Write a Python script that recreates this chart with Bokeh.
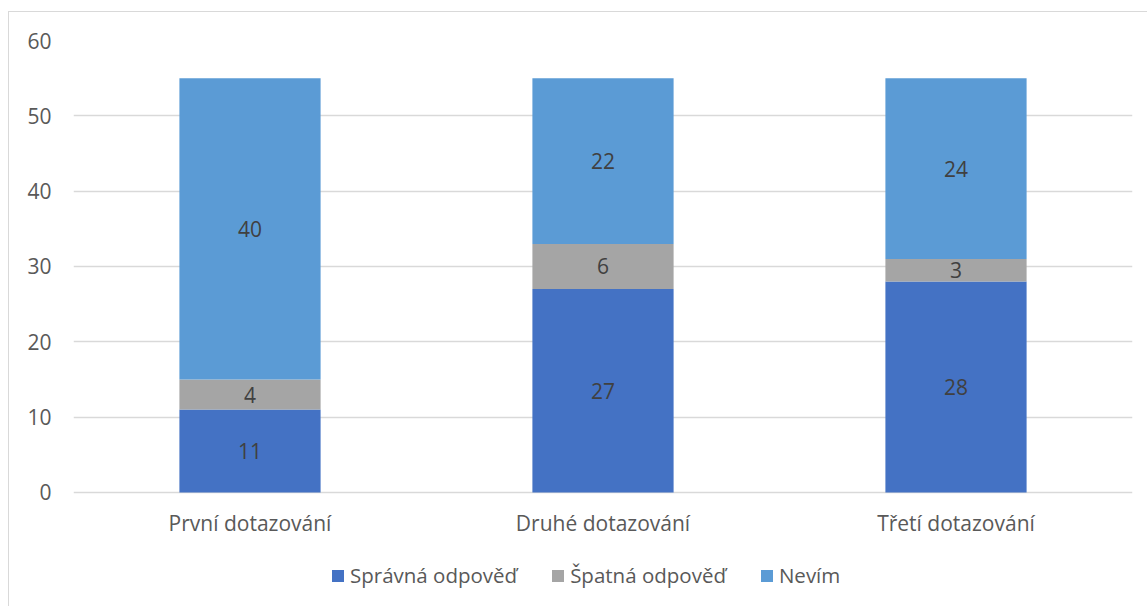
from bokeh.plotting import figure
from bokeh.models import ColumnDataSource, Legend, LegendItem, FactorRange, FixedTicker
from bokeh.core.properties import value
from bokeh.embed import file_html
from bokeh.resources import INLINE

categories = ["První dotazování", "Druhé dotazování", "Třetí dotazování"]
series_names = ["Správná odpověď", "Špatná odpověď", "Nevím"]
spravna = [11, 27, 28]
spatna = [4, 6, 3]
nevim = [40, 22, 24]
y_ticks = [0, 10, 20, 30, 40, 50, 60]
colors = ["#4472C4", "#A5A5A5", "#5B9BD5"]

FONT = "Open Sans"
FS = "21px"

src = ColumnDataSource(dict(cat=categories, s0=spravna, s1=spatna, s2=nevim))

# frame extends below zero so the legend and category labels can live inside it
p = figure(x_range=FactorRange(*categories, range_padding=0), y_range=(-15.27, 60),
           width=1139, height=595, output_backend="svg", toolbar_location=None,
           min_border_left=64, min_border_right=16, min_border_top=28, min_border_bottom=0)
p.styles = {"border-top": "1px solid #d9d9d9", "border-left": "1px solid #d9d9d9",
            "margin-top": "11px", "margin-left": "8px"}

renderers = p.vbar_stack(["s0", "s1", "s2"], x="cat", width=0.4, color=colors, source=src, line_color=None)

# data labels
lab_x, lab_y, lab_t = [], [], []
for i, c in enumerate(categories):
    base = 0
    for vals in (spravna, spatna, nevim):
        v = vals[i]
        lab_x.append(c)
        lab_y.append(base + v / 2)
        lab_t.append(str(v))
        base += v
p.text(x=lab_x, y=lab_y, text=lab_t, text_align="center", text_baseline="middle",
       text_font=value(FONT), text_font_size=FS, text_color="#404040")

# category labels (x axis)
p.text(x=categories, y=[0] * len(categories), text=categories, y_offset=31,
       text_align="center", text_baseline="middle",
       text_font=value(FONT), text_font_size=FS, text_color="#595959")

p.outline_line_color = None
p.background_fill_color = "white"
p.border_fill_color = "white"

p.xaxis.visible = False
p.xgrid.grid_line_color = None
p.ygrid.grid_line_color = "#d9d9d9"
p.ygrid.grid_line_width = 1.5
p.yaxis.ticker = FixedTicker(ticks=y_ticks)
p.yaxis.axis_line_color = None
p.yaxis.major_tick_line_color = None
p.yaxis.minor_tick_line_color = None
p.yaxis.major_tick_out = 0
p.yaxis.major_label_standoff = 22
p.yaxis.major_label_text_font = FONT
p.yaxis.major_label_text_font_size = FS
p.yaxis.major_label_text_color = "#595959"

legend = Legend(items=[LegendItem(label=n, renderers=[r]) for n, r in zip(series_names, renderers)],
                orientation="horizontal", location=(257, 18), border_line_color=None,
                glyph_width=15, glyph_height=15, label_standoff=5, spacing=33,
                label_text_font=FONT, label_text_font_size="20.5px", label_text_color="#595959",
                margin=0, padding=0, background_fill_alpha=0)
p.add_layout(legend)

open("out.html", "w").write(file_html(p, INLINE))
